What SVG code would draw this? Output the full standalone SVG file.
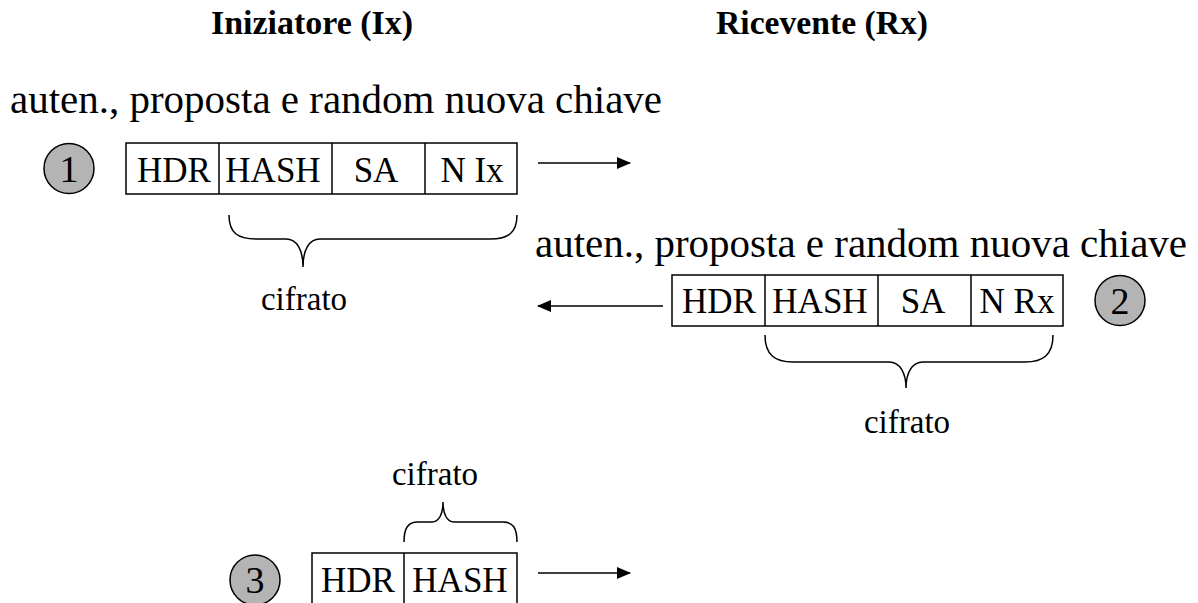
<svg xmlns="http://www.w3.org/2000/svg" width="1198" height="603" viewBox="0 0 1198 603">
  <style>
    text { font-family: "Liberation Serif", "Times New Roman", serif; fill: #000; }
    .hdr { font-size: 34px; font-weight: bold; }
    .line { font-size: 41px; }
    .cell { font-size: 35px; text-anchor: middle; }
    .num { font-size: 38px; text-anchor: middle; }
    .note { font-size: 33px; text-anchor: middle; }
    .box { fill: #fff; stroke: #000; stroke-width: 1.5; }
    .sep { stroke: #000; stroke-width: 1.5; }
    .step { fill: #b4b4b4; stroke: #000; stroke-width: 1.5; }
    .brace { fill: none; stroke: #000; stroke-width: 1.5; }
    .arrow { stroke: #000; stroke-width: 1.5; marker-end: url(#head); }
  </style>
  <defs>
    <marker id="head" markerUnits="userSpaceOnUse" markerWidth="14" markerHeight="12" refX="13" refY="6" orient="auto">
      <path d="M0,0 L14,6 L0,12 Z" fill="#000"/>
    </marker>
  </defs>

  <!-- column titles -->
  <g id="titles">
    <text class="hdr" x="211" y="34" textLength="202" lengthAdjust="spacingAndGlyphs">Iniziatore (Ix)</text>
    <text class="hdr" x="716" y="34" textLength="212" lengthAdjust="spacingAndGlyphs">Ricevente (Rx)</text>
  </g>

  <!-- message 1: initiator to responder -->
  <g id="msg1">
    <text class="line" x="10" y="113" textLength="652" lengthAdjust="spacingAndGlyphs">auten., proposta e random nuova chiave</text>
    <circle class="step" cx="69" cy="168.5" r="25"/>
    <text class="num" x="69" y="182">1</text>
    <rect class="box" x="126" y="143" width="391" height="51"/>
    <line class="sep" x1="219" y1="143" x2="219" y2="194"/>
    <line class="sep" x1="332" y1="143" x2="332" y2="194"/>
    <line class="sep" x1="425" y1="143" x2="425" y2="194"/>
    <text class="cell" x="174" y="182">HDR</text>
    <text class="cell" x="273" y="182">HASH</text>
    <text class="cell" x="376" y="182">SA</text>
    <text class="cell" x="472" y="182">N Ix</text>
    <path class="brace" d="M229,215 C229,233 238,239 256,239 L286,239 C297,239 303,250 303,267 C303,250 309,239 320,239 L490,239 C508,239 517,233 517,215"/>
    <text class="note" x="304" y="310">cifrato</text>
  </g>

  <!-- message 2: responder to initiator -->
  <g id="msg2">
    <text class="line" x="535" y="257" textLength="652" lengthAdjust="spacingAndGlyphs">auten., proposta e random nuova chiave</text>
    <rect class="box" x="672" y="275" width="391" height="51"/>
    <line class="sep" x1="765" y1="275" x2="765" y2="326"/>
    <line class="sep" x1="878" y1="275" x2="878" y2="326"/>
    <line class="sep" x1="971" y1="275" x2="971" y2="326"/>
    <text class="cell" x="719" y="313">HDR</text>
    <text class="cell" x="820" y="313">HASH</text>
    <text class="cell" x="923" y="313">SA</text>
    <text class="cell" x="1017" y="313">N Rx</text>
    <circle class="step" cx="1120" cy="300.5" r="25"/>
    <text class="num" x="1120" y="314">2</text>
    <path class="brace" d="M765,335 C765,355 775,362 793,362 L889,362 C900,362 906,373 906,388 C906,373 912,362 923,362 L1025,362 C1043,362 1053,355 1053,335"/>
    <text class="note" x="907" y="433">cifrato</text>
  </g>

  <!-- message 3: initiator to responder -->
  <g id="msg3">
    <text class="note" x="435" y="485">cifrato</text>
    <path class="brace" d="M404,542 C404,528 408,522 418,522 L432,522 C439,522 443,514 443,502 C443,514 447,522 454,522 L503,522 C513,522 517,528 517,542"/>
    <circle class="step" cx="255" cy="580" r="25"/>
    <text class="num" x="255" y="593">3</text>
    <path class="box" d="M312,604 L312,553 L517,553 L517,604"/>
    <line class="sep" x1="404" y1="553" x2="404" y2="604"/>
    <text class="cell" x="358" y="592">HDR</text>
    <text class="cell" x="460" y="592">HASH</text>
  </g>

  <!-- transfer arrows -->
  <g id="connectors">
    <line class="arrow" x1="538" y1="163" x2="630" y2="163"/>
    <line class="arrow" x1="663" y1="306" x2="538" y2="306"/>
    <line class="arrow" x1="538" y1="573" x2="630" y2="573"/>
  </g>
</svg>
